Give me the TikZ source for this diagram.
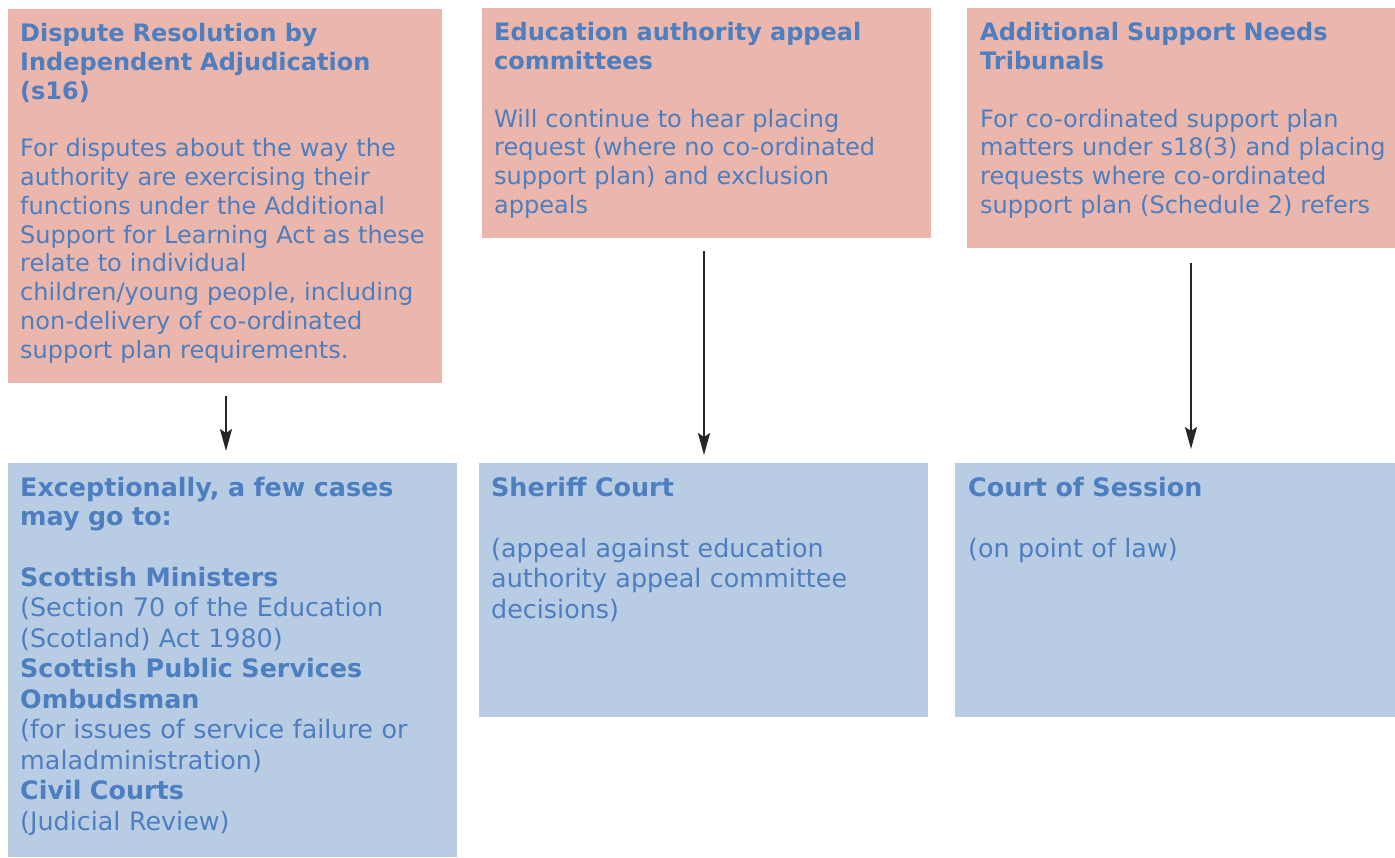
\documentclass[tikz,border=0pt]{standalone}
\usepackage{fontspec}
\setmainfont{DejaVu Sans}
\usetikzlibrary{arrows.meta}
\definecolor{pinkfill}{RGB}{235,182,172}
\definecolor{bluefill}{RGB}{184,204,228}
\definecolor{txtblue}{RGB}{76,126,192}
\definecolor{arrowgrey}{RGB}{38,38,38}
\begin{document}
\begin{tikzpicture}[x=1pt,y=-1pt,
  box/.style={draw=none, inner sep=0pt, outer sep=0pt, anchor=north west},
  pinkbox/.style={box, fill=pinkfill},
  bluebox/.style={box, fill=bluefill},
  txt/.style={anchor=base west, inner sep=0pt, text width=440pt, align=left, text=txtblue, font=\fontsize{24}{28.8}\selectfont},
  btxt/.style={txt, font=\fontsize{25.4}{30.5}\selectfont},
  arr/.style={draw=arrowgrey, line width=2pt, -{Stealth[length=22pt,width=12pt,inset=4pt]}}]
\useasboundingbox (0,0) rectangle (1395,857);

% top boxes
\node[pinkbox, minimum width=434pt, minimum height=374pt] (a1) at (8,9) {};
\node[pinkbox, minimum width=449pt, minimum height=230pt] (a2) at (482,8) {};
\node[pinkbox, minimum width=428pt, minimum height=240pt] (a3) at (967,8) {};
% bottom boxes
\node[bluebox, minimum width=449pt, minimum height=394pt] (b1) at (8,463) {};
\node[bluebox, minimum width=449pt, minimum height=254pt] (b2) at (479,463) {};
\node[bluebox, minimum width=440pt, minimum height=254pt] (b3) at (955,463) {};

% texts
\node[txt] (a1t) at ([shift={(12,32.5)}]a1.north west) {%
\textbf{Dispute Resolution by}\\
\textbf{Independent Adjudication}\\
\textbf{(s16)}\\[28.8pt]
For disputes about the way the\\
authority are exercising their\\
functions under the Additional\\
Support for Learning Act as these\\
relate to individual\\
children/young people, including\\
non-delivery of co-ordinated\\
support plan requirements.};

\node[txt] (a2t) at ([shift={(12,32.7)}]a2.north west) {%
\textbf{Education authority appeal}\\
\textbf{committees}\\[28.8pt]
Will continue to hear placing\\
request (where no co-ordinated\\
support plan) and exclusion\\
appeals};

\node[txt] (a3t) at ([shift={(13,32.7)}]a3.north west) {%
\textbf{Additional Support Needs}\\
\textbf{Tribunals}\\[28.8pt]
For co-ordinated support plan\\
matters under s18(3) and placing\\
requests where co-ordinated\\
support plan (Schedule 2) refers};

\node[btxt] (b1t) at ([shift={(12,33)}]b1.north west) {%
\textbf{Exceptionally, a few cases}\\[-1.5pt]
\textbf{may go to:}\\[30.5pt]
\textbf{Scottish Ministers}\\
(Section 70 of the Education\\
(Scotland) Act 1980)\\
\textbf{Scottish Public Services}\\
\textbf{Ombudsman}\\
(for issues of service failure or\\
maladministration)\\
\textbf{Civil Courts}\\
(Judicial Review)};

\node[btxt] (b2t) at ([shift={(12,33)}]b2.north west) {%
\textbf{Sheriff Court}\\[30.5pt]
(appeal against education\\
authority appeal committee\\
decisions)};

\node[btxt] (b3t) at ([shift={(13,33)}]b3.north west) {%
\textbf{Court of Session}\\[30.5pt]
(on point of law)};

% arrows
\draw[arr] ([shift={(1,13)}]a1.south) -- ([shift={(-6.5,-12)}]b1.north);
\draw[arr] ([shift={(-2.5,13)}]a2.south) -- ([shift={(0.5,-8)}]b2.north);
\draw[arr] ([shift={(10,15)}]a3.south) -- ([shift={(16,-14)}]b3.north);
\end{tikzpicture}
\end{document}
